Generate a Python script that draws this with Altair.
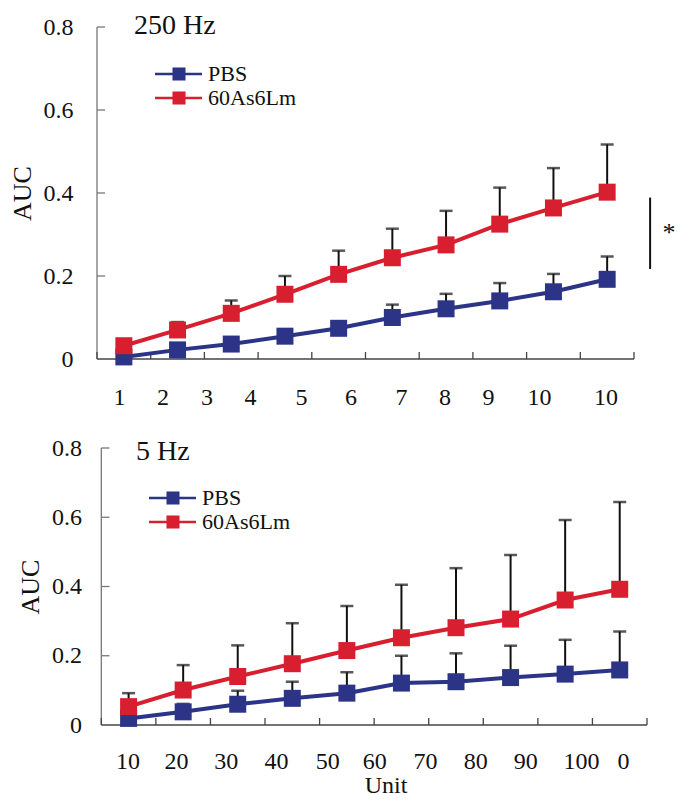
import altair as alt
import pandas as pd

FONT = "Liberation Serif"
groups = ["PBS", "60As6Lm"]
colors = ["#2b3486", "#d71f30"]
points = list(range(1, 11))

# 250 Hz panel
top_title = "250 Hz"
top_pbs_mean = [0.005, 0.022, 0.036, 0.055, 0.074, 0.100, 0.121, 0.140, 0.162, 0.192]
top_pbs_sem = [0.004, 0.006, 0.008, 0.010, 0.015, 0.031, 0.036, 0.043, 0.043, 0.055]
top_lm_mean = [0.032, 0.070, 0.110, 0.156, 0.204, 0.244, 0.275, 0.325, 0.364, 0.402]
top_lm_sem = [0.005, 0.019, 0.031, 0.044, 0.057, 0.070, 0.082, 0.088, 0.096, 0.115]
top_tick_labels = ["1", "2", "3", "4", "5", "6", "7", "8", "9", "10", "10"]
top_label_pos = [0.42, 1.23, 2.05, 2.86, 3.81, 4.73, 5.67, 6.48, 7.29, 8.24, 9.48]
sig_range = [0.217, 0.389]
sig_text = "*"

# 5 Hz panel
bot_title = "5 Hz"
bot_pbs_mean = [0.019, 0.038, 0.060, 0.077, 0.092, 0.121, 0.125, 0.137, 0.147, 0.159]
bot_pbs_sem = [0.005, 0.023, 0.039, 0.048, 0.060, 0.079, 0.082, 0.092, 0.099, 0.111]
bot_lm_mean = [0.053, 0.101, 0.140, 0.177, 0.215, 0.252, 0.281, 0.306, 0.361, 0.392]
bot_lm_sem = [0.039, 0.072, 0.090, 0.117, 0.129, 0.153, 0.172, 0.185, 0.231, 0.252]
bot_tick_labels = ["10", "20", "30", "40", "50", "60", "70", "80", "90", "100", "0"]
bot_label_pos = [0.49, 1.38, 2.29, 3.21, 4.15, 5.01, 5.94, 6.86, 7.78, 8.80, 9.57]
x_title = "Unit"
y_title = "AUC"
y_ticks = [0, 0.2, 0.4, 0.6, 0.8]


def make_df(pbs_mean, pbs_sem, lm_mean, lm_sem):
    rows = []
    for g, m, s in [(groups[0], pbs_mean, pbs_sem), (groups[1], lm_mean, lm_sem)]:
        for p, mv, sv in zip(points, m, s):
            rows.append({"pos": p - 0.5, "group": g, "mean": mv, "upper": mv + sv})
    return pd.DataFrame(rows)


def panel(df, title, labels, label_pos, w, h, xdom, label_pad, label_dy,
          title_xy, legend_xy, sig=None, xlabel=None):
    xs = alt.Scale(domain=xdom, nice=False, zero=False)
    ys = alt.Scale(domain=[0, 0.8], nice=False)
    color = alt.Color("group:N", scale=alt.Scale(domain=groups, range=colors), legend=None)
    yaxis = alt.Axis(values=y_ticks, domain=False, ticks=False, grid=False,
                     labelFont=FONT, labelFontSize=24, labelColor="#111",
                     labelPadding=label_pad,
                     labelExpr="datum.value == 0 ? '0' : format(datum.value, '.1f')",
                     title=y_title, titleFont=FONT, titleFontSize=26,
                     titleFontWeight="normal", titleColor="#111", titlePadding=8)
    base = alt.Chart(df)
    X = alt.X("pos:Q", scale=xs, axis=None)

    # axes drawn as rules
    ax_df = pd.DataFrame({"x0": [0], "x1": [10], "y0": [0], "y1": [0.8]})
    yline = alt.Chart(ax_df).mark_rule(color="#777", strokeWidth=1.3).encode(
        x=alt.X("x0:Q", scale=xs, axis=None),
        y=alt.Y("y0:Q", scale=ys, axis=yaxis), y2="y1:Q")
    xline = alt.Chart(ax_df).mark_rule(color="#444", strokeWidth=1.6).encode(
        x=alt.X("x0:Q", scale=xs, axis=None), x2="x1:Q",
        y=alt.Y("y0:Q", scale=ys))
    xt_df = pd.DataFrame({"t": list(range(0, 11))})
    xticks = alt.Chart(xt_df).mark_rule(color="#444", strokeWidth=1.3).encode(
        x=alt.X("t:Q", scale=xs, axis=None),
        y=alt.value(h), y2=alt.value(h - 7))
    yt_df = pd.DataFrame({"v": y_ticks[1:], "a": [0] * 4, "b": [0.15] * 4})
    yticks = alt.Chart(yt_df).mark_rule(color="#777", strokeWidth=1.3).encode(
        x=alt.X("a:Q", scale=xs, axis=None), x2="b:Q",
        y=alt.Y("v:Q", scale=ys))

    err = base.mark_rule(color="#111", strokeWidth=2).encode(
        x=X, y=alt.Y("mean:Q", scale=ys), y2="upper:Q")
    caps = base.mark_tick(color="#111", orient="horizontal", size=13, thickness=2.5).encode(
        x=X, y=alt.Y("upper:Q", scale=ys))
    lines = base.mark_line(strokeWidth=4).encode(
        x=X, y=alt.Y("mean:Q", scale=ys), color=color, detail="group:N")
    squares = base.mark_square(size=289, opacity=1).encode(
        x=X, y=alt.Y("mean:Q", scale=ys), color=color)

    lab_df = pd.DataFrame({"lab": labels, "p": label_pos})
    tlabels = alt.Chart(lab_df).mark_text(font=FONT, fontSize=24, color="#111",
                                          baseline="middle", align="center").encode(
        x=alt.X("p:Q", scale=xs, axis=None), y=alt.value(h + label_dy), text="lab:N")

    ttl = alt.Chart(pd.DataFrame({"t": [title]})).mark_text(
        font=FONT, fontSize=28, color="#111", align="left", baseline="middle").encode(
        x=alt.value(title_xy[0]), y=alt.value(title_xy[1]), text="t:N")

    leg_layers = []
    lx, ly, dy = legend_xy
    for k, g in enumerate(groups):
        gdf = pd.DataFrame({"g": [g]})
        yy = ly + k * dy
        leg_layers.append(alt.Chart(gdf).mark_rule(color=colors[k], strokeWidth=2.5).encode(
            x=alt.value(lx), x2=alt.value(lx + 47), y=alt.value(yy)))
        leg_layers.append(alt.Chart(gdf).mark_square(size=170, opacity=1, color=colors[k]).encode(
            x=alt.value(lx + 24), y=alt.value(yy)))
        leg_layers.append(alt.Chart(gdf).mark_text(font=FONT, fontSize=22, color="#111",
                                                   align="left", baseline="middle").encode(
            x=alt.value(lx + 53), y=alt.value(yy), text="g:N"))

    layers = [yline, xline, xticks, yticks, err, caps, lines, squares, tlabels, ttl] + leg_layers
    if sig is not None:
        sdf = pd.DataFrame({"x": [sig[0]], "y0": [sig_range[0]], "y1": [sig_range[1]],
                            "xt": [sig[1]], "yt": [(sig_range[0] + sig_range[1]) / 2], "t": [sig_text]})
        layers.append(alt.Chart(sdf).mark_rule(color="#111", strokeWidth=2).encode(
            x=alt.X("x:Q", scale=xs, axis=None), y=alt.Y("y0:Q", scale=ys), y2="y1:Q"))
        layers.append(alt.Chart(sdf).mark_text(font=FONT, fontSize=26, color="#111",
                                               baseline="middle").encode(
            x=alt.X("xt:Q", scale=xs, axis=None), y=alt.Y("yt:Q", scale=ys), text="t:N"))
    if xlabel is not None:
        layers.append(alt.Chart(pd.DataFrame({"t": [xlabel]})).mark_text(
            font=FONT, fontSize=24, color="#111", baseline="middle").encode(
            x=alt.value(289), y=alt.value(h + 61), text="t:N"))
    return alt.layer(*layers).properties(width=w, height=h)


top_df = make_df(top_pbs_mean, top_pbs_sem, top_lm_mean, top_lm_sem)
bot_df = make_df(bot_pbs_mean, bot_pbs_sem, bot_lm_mean, bot_lm_sem)

top = panel(top_df, top_title, top_tick_labels, top_label_pos, 537, 332, [0, 10],
            24, 39, (37, -1), (58, 47, 24), sig=(10.3, 10.65))
bottom = panel(bot_df, bot_title, bot_tick_labels, bot_label_pos, 550, 277, [-0.079, 10],
               15.5, 37, (39, 4), (52, 50, 24), xlabel=x_title)

chart = alt.vconcat(top, bottom, spacing=26).properties(
    padding={"left": 1, "top": 4, "right": 0, "bottom": 0}
).configure_view(stroke=None)

chart.save("out.html", embed_options={"renderer": "svg", "actions": False})
